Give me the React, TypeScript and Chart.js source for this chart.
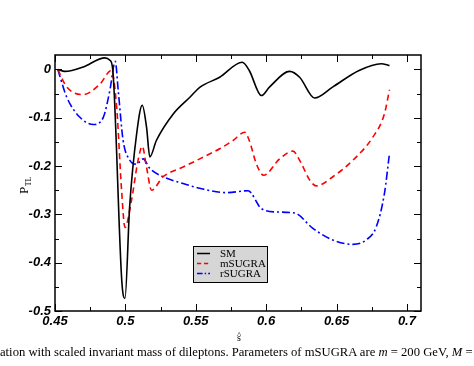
import React, { useEffect, useRef } from "react";
import { Chart, registerables } from "chart.js";

Chart.register(...registerables);

// ---- data ----
const smX = [0.452, 0.457, 0.462, 0.47, 0.4855, 0.489, 0.491, 0.4975, 0.4997, 0.503, 0.508, 0.512, 0.515, 0.5174, 0.522, 0.534, 0.546, 0.5528, 0.567, 0.583, 0.588, 0.5966, 0.6025, 0.6167, 0.6238, 0.6344, 0.6474, 0.666, 0.6817, 0.6876];
const smY = [0, -0.004, -0.002, 0.005, 0.024, 0.019, 0, -0.44, -0.474, -0.285, -0.133, -0.074, -0.119, -0.181, -0.147, -0.092, -0.057, -0.037, -0.016, 0.015, -0.002, -0.054, -0.036, -0.004, -0.016, -0.059, -0.036, -0.002, 0.012, 0.008];

const msugraX = [0.452, 0.4583, 0.47, 0.482, 0.49, 0.4938, 0.4973, 0.4997, 0.5044, 0.509, 0.512, 0.515, 0.5186, 0.5268, 0.541, 0.5528, 0.567, 0.5765, 0.5848, 0.588, 0.593, 0.5982, 0.6096, 0.619, 0.6238, 0.631, 0.6356, 0.6474, 0.6616, 0.6758, 0.684, 0.6876];
const msugraY = [0, -0.036, -0.052, -0.03, -0.002, -0.078, -0.25, -0.327, -0.27, -0.188, -0.159, -0.202, -0.25, -0.222, -0.202, -0.185, -0.164, -0.147, -0.13, -0.147, -0.195, -0.219, -0.185, -0.169, -0.188, -0.229, -0.241, -0.222, -0.188, -0.14, -0.092, -0.042];

const rsugraX = [0.452, 0.4583, 0.4677, 0.4772, 0.4843, 0.489, 0.4928, 0.4949, 0.4984, 0.5032, 0.5079, 0.5126, 0.5174, 0.5268, 0.541, 0.5528, 0.5718, 0.5871, 0.5966, 0.6072, 0.6202, 0.6332, 0.6474, 0.6616, 0.671, 0.6782, 0.684, 0.6876];
const rsugraY = [0, -0.057, -0.099, -0.114, -0.099, -0.043, 0.017, -0.043, -0.147, -0.188, -0.196, -0.185, -0.205, -0.222, -0.236, -0.246, -0.255, -0.251, -0.288, -0.295, -0.297, -0.329, -0.353, -0.362, -0.353, -0.326, -0.257, -0.174];

const xTicks = [0.45, 0.5, 0.55, 0.6, 0.65, 0.7];
const xMinorTicks = [0.475, 0.525, 0.575, 0.625, 0.675];
const yTicks = [-0.5, -0.4, -0.3, -0.2, -0.1, 0];
const yMinorTicks = [-0.45, -0.35, -0.25, -0.15, -0.05];

const seriesNames = ["SM", "mSUGRA", "rSUGRA"];
const seriesColors = ["#000000", "#ff0000", "#0000ff"];
const seriesDashes: number[][] = [[], [6, 4], [8, 3, 2, 3]];

const caption = "ation with scaled invariant mass of dileptons. Parameters of mSUGRA are ";

const toPoints = (xs: number[], ys: number[]) => xs.map((x, i) => ({ x, y: ys[i] }));

const framePlugin = {
  id: "frameTicks",
  afterDraw(chart: any) {
    const ctx = chart.ctx;
    const { left, right, top, bottom } = chart.chartArea;
    const xs = chart.scales.x;
    const ys = chart.scales.y;
    ctx.save();
    ctx.strokeStyle = "#000";
    ctx.lineWidth = 1.5;
    ctx.strokeRect(left, top, right - left, bottom - top);
    ctx.lineWidth = 1;
    const drawX = (v: number, len: number) => {
      const p = Math.round(xs.getPixelForValue(v)) + 0.5;
      ctx.beginPath();
      ctx.moveTo(p, bottom);
      ctx.lineTo(p, bottom - len);
      ctx.moveTo(p, top);
      ctx.lineTo(p, top + len);
      ctx.stroke();
    };
    const drawY = (v: number, len: number) => {
      const p = Math.round(ys.getPixelForValue(v)) + 0.5;
      ctx.beginPath();
      ctx.moveTo(left, p);
      ctx.lineTo(left + len, p);
      ctx.moveTo(right, p);
      ctx.lineTo(right - len, p);
      ctx.stroke();
    };
    xTicks.forEach((v) => drawX(v, 7));
    xMinorTicks.forEach((v) => drawX(v, 4));
    yTicks.forEach((v) => drawY(v, 7));
    yMinorTicks.forEach((v) => drawY(v, 4));

    // legend
    const lx = 193, ly = 246, lw = 74, lh = 36;
    ctx.fillStyle = "#d6d6d6";
    ctx.fillRect(lx, ly, lw, lh);
    ctx.strokeStyle = "#000";
    ctx.lineWidth = 1;
    ctx.strokeRect(lx + 0.5, ly + 0.5, lw, lh);
    const rows = [253.5, 263.5, 273.5];
    ctx.font = '11px "Liberation Serif", serif';
    ctx.textBaseline = "middle";
    ctx.textAlign = "left";
    seriesNames.forEach((name, i) => {
      ctx.strokeStyle = seriesColors[i];
      ctx.lineWidth = 1.5;
      ctx.setLineDash(seriesDashes[i].map((d) => d * 0.7));
      ctx.beginPath();
      ctx.moveTo(lx + 4, rows[i]);
      ctx.lineTo(lx + 17, rows[i]);
      ctx.stroke();
      ctx.setLineDash([]);
      ctx.fillStyle = "#000";
      ctx.fillText(name, lx + 27, rows[i] + 0.5);
    });

    // x title: s-hat
    ctx.fillStyle = "#000";
    ctx.textAlign = "center";
    ctx.textBaseline = "alphabetic";
    ctx.font = '10px "Liberation Serif", serif';
    ctx.fillText("s", 239, 341);
    ctx.font = '9px "Liberation Serif", serif';
    ctx.fillText("^", 239, 338);

    // y title: P_TL
    ctx.translate(28, 183);
    ctx.rotate(-Math.PI / 2);
    ctx.textAlign = "left";
    ctx.font = '13px "Liberation Serif", serif';
    const pw = ctx.measureText("P").width;
    ctx.fillText("P", -11, 0);
    ctx.font = '8px "Liberation Serif", serif';
    ctx.fillText("TL", -11 + pw + 0.5, 3);
    ctx.restore();
  },
};

export default function App() {
  const ref = useRef<HTMLCanvasElement>(null);
  useEffect(() => {
    document.body.style.margin = "0";
    if (!ref.current) return;
    const mk = (i: number, xs: number[], ys: number[]) => ({
      label: seriesNames[i],
      data: toPoints(xs, ys),
      borderColor: seriesColors[i],
      borderDash: seriesDashes[i],
      borderWidth: 1.6,
      pointRadius: 0,
      fill: false,
      cubicInterpolationMode: "monotone" as const,
    });
    const tickFont = { family: '"Liberation Sans", Arial, sans-serif', size: 13, weight: "bold" as const, style: "italic" as const };
    const chart = new Chart(ref.current, {
      type: "line",
      data: {
        datasets: [mk(0, smX, smY), mk(1, msugraX, msugraY), mk(2, rsugraX, rsugraY)],
      },
      plugins: [framePlugin],
      options: {
        animation: false,
        responsive: false,
        devicePixelRatio: 1,
        layout: { padding: { left: 0, top: 55, right: 53, bottom: 25 } },
        plugins: { legend: { display: false }, tooltip: { enabled: false } },
        scales: {
          x: {
            type: "linear",
            min: 0.45,
            max: 0.71,
            afterBuildTicks: (s: any) => {
              s.ticks = xTicks.map((v) => ({ value: v }));
            },
            afterFit: (s: any) => {
              s.height = 30;
            },
            grid: { display: false, drawTicks: false },
            border: { display: false },
            ticks: {
              autoSkip: false,
              maxRotation: 0,
              padding: 3,
              color: "#000",
              font: tickFont,
              callback: (v: any) => String(v),
            },
          },
          y: {
            type: "linear",
            min: -0.5,
            max: 0.03,
            afterBuildTicks: (s: any) => {
              s.ticks = yTicks.map((v) => ({ value: v }));
            },
            afterFit: (s: any) => {
              s.width = 55;
            },
            grid: { display: false, drawTicks: false },
            border: { display: false },
            ticks: {
              autoSkip: false,
              padding: 4,
              color: "#000",
              font: tickFont,
              callback: (v: any) => String(v),
            },
          },
        },
      },
    });
    return () => chart.destroy();
  }, []);

  return (
    <div style={{ position: "relative", width: 474, height: 366, overflow: "hidden", background: "#fff" }}>
      <canvas ref={ref} width={474} height={366} style={{ display: "block" }} />
      <div
        style={{
          position: "absolute",
          left: 0,
          top: 345,
          whiteSpace: "nowrap",
          fontFamily: '"Liberation Serif", "Times New Roman", serif',
          fontSize: "12.65px",
          lineHeight: "14px",
          color: "#000",
        }}
      >
        {caption}
        <i>m</i> = 200 GeV, <i>M</i> =
      </div>
    </div>
  );
}
